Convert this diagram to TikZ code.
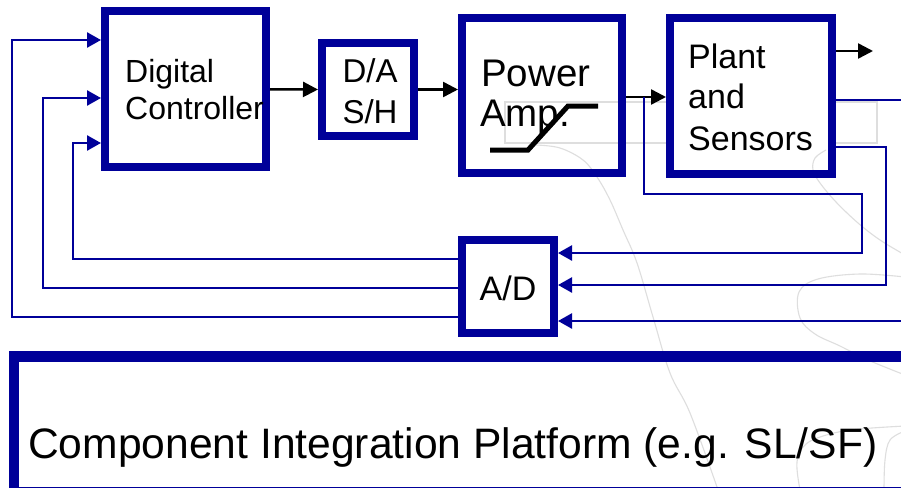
\documentclass[tikz,border=0pt]{standalone}
\usepackage{fontspec}
\setmainfont{Liberation Sans}
\usetikzlibrary{arrows.meta,calc}
\definecolor{navy}{RGB}{0,0,153}
\definecolor{wm}{RGB}{222,222,222}
\begin{document}
\begin{tikzpicture}[x=1pt,y=-1pt,
  blk/.style={draw=navy, line width=8pt, inner sep=0pt},
  lbl/.style={inner sep=0pt, anchor=base west},
  fb/.style={draw=navy, line width=2.5pt, -{Triangle[length=14pt 0 0,width=15pt 0 0]}},
  fbn/.style={draw=navy, line width=2.5pt},
  sig/.style={draw=black, line width=2.5pt, -{Triangle[length=15pt 0 0,width=15pt 0 0]}},
  water/.style={draw=wm, line width=1.1pt}]
\useasboundingbox (0,0) rectangle (901,487);
\clip (0,0) rectangle (901,487);
\fill[white] (0,0) rectangle (901,487);

% faint background watermark
\draw[water] (666,102) -- (505,102) -- (505,143) -- (666,143);
\draw[water] (836,102) -- (877,102) -- (877,143) -- (836,143);
\draw[water] plot[smooth, tension=0.6] coordinates {(536,145) (560,148) (583,160) (597,177) (610,200) (623,230) (637,263) (653,317) (670,373) (690,413) (717,487)};
\draw[water] plot[smooth, tension=0.6] coordinates {(826,150) (815,158) (813,170) (820,183) (836,202) (858,223) (880,240) (905,255)};
\draw[water] plot[smooth, tension=0.6] coordinates {(905,277) (860,274) (818,279) (799,292) (800,318) (815,334) (840,346) (868,360) (905,375)};
\draw[water] plot[smooth, tension=0.6] coordinates {(800,490) (797,462) (806,444) (830,434) (860,429) (905,426)};
\draw[water] plot[smooth, tension=0.6] coordinates {(905,431) (890,440) (885,460) (884,490)};

% blocks
\node[blk, minimum width=161pt, minimum height=155.5pt] (DC) at (185.5,89.25) {};
\node[blk, minimum width=92pt, minimum height=93pt] (DA) at (368,89.5) {};
\node[blk, minimum width=160pt, minimum height=155pt] (PA) at (542,95.5) {};
\node[blk, minimum width=162pt, minimum height=156pt] (PS) at (751,96) {};
\node[blk, minimum width=92pt, minimum height=93pt] (AD) at (508,286.5) {};
\node[draw=navy, line width=10pt, inner sep=0pt, minimum width=916pt, minimum height=136pt] (CIP) at (472,423.5) {};
\draw[navy, line width=11pt] ($(CIP.north west)+(0,5.5)$) -- ($(CIP.north east)+(0,5.5)$);

% labels
\node[lbl, font=\fontsize{32}{38}\selectfont] (t1) at (125,82) {Digital};
\node[lbl, font=\fontsize{32}{38}\selectfont] (t2) at (125,119) {Controller};
\node[lbl, anchor=base, font=\fontsize{33}{40}\selectfont] (t3) at (370,82) {D/A};
\node[lbl, anchor=base, font=\fontsize{33}{40}\selectfont] (t4) at (370,123) {S/H};
\node[lbl, font=\fontsize{38.5}{46}\selectfont] (t5) at (481,86) {Power};
\node[lbl, font=\fontsize{38.5}{46}\selectfont] (t6) at (480,126) {Amp.};
\node[lbl, font=\fontsize{34}{41}\selectfont] (t7) at (688,68) {Plant};
\node[lbl, font=\fontsize{34}{41}\selectfont] (t8) at (688,108) {and};
\node[lbl, font=\fontsize{34}{41}\selectfont] (t9) at (688,150) {Sensors};
\node[lbl, anchor=base, font=\fontsize{34}{41}\selectfont] (t10) at (508,300) {A/D};
\node[lbl, font=\fontsize{42.6}{51}\selectfont] (t11) at (28,458) {Component Integration Platform (e.g. SL/SF)};

% saturation characteristic
\draw[black, line width=5pt] (490,150) -- (528,150) -- (568,106) -- (598,106);

% coordinates
\coordinate (r1) at (0,259);
\coordinate (r2) at (0,288);
\coordinate (r3) at (0,317);
\coordinate (k1) at (73,143);
\coordinate (k2) at (43,98);
\coordinate (k3) at (12,40);
\coordinate (j1) at (644,97);
\coordinate (c1) at (862,194);
\coordinate (q1) at (0,253);
\coordinate (c2) at (886,285);
\coordinate (s1) at (0,147);
\coordinate (s2) at (0,100);
\coordinate (e1) at (910,100);
\coordinate (e2) at (910,321);
\coordinate (o1) at (873,51);
\coordinate (s3) at (0,51);
\coordinate (s4) at (0,97);

% signal path
\draw[sig] (DC.east) -- (DA.west);
\draw[sig] (DA.east) -- (DA.east -| PA.west);
\draw[sig] (PA.east |- s4) -- (PS.west |- s4);
\draw[sig] (PS.east |- s3) -- (o1);

% feedback A/D -> controller
\draw[fb] (AD.west |- r1) -| (k1) -- (DC.west |- k1);
\draw[fb] (AD.west |- r2) -| (k2) -- (DC.west |- k2);
\draw[fb] (AD.west |- r3) -| (k3) -- (DC.west |- k3);

% sensor lines -> A/D
\draw[fb] (j1) |- (c1) |- (AD.east |- q1);
\draw[fb] (PS.east |- s1) -| (c2) -- (AD.east |- c2);
\draw[fbn] (PS.east |- s2) -- (e1);
\draw[fb] (e2) -- (AD.east |- e2);
\end{tikzpicture}
\end{document}
